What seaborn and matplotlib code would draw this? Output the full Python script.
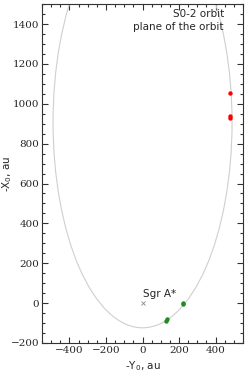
import matplotlib
matplotlib.use("Agg")
import matplotlib.pyplot as plt
from matplotlib.patches import Ellipse
from matplotlib.ticker import MultipleLocator
import pandas as pd
import seaborn as sns

# orbit of S0-2 (focus at Sgr A*)
orbit_center_y = 907
orbit_semi_major = 1031
orbit_semi_minor = 490

# observed positions (-Y0, -X0) in au
red_y = [478, 480, 481]
red_x = [1055, 941, 931]
green_y = [219, 224, 127, 134]
green_x = [-6, 1, -88, -82]

df_red = pd.DataFrame({"y": red_y, "x": red_x})
df_green = pd.DataFrame({"y": green_y, "x": green_x})

sns.set_style("ticks")
plt.rcParams["font.family"] = ["DejaVu Sans"]

fig = plt.figure(figsize=(2.49, 3.74), dpi=100)
ax = fig.add_axes([0.169, 0.083, 0.807, 0.906])

orbit = Ellipse((0, orbit_center_y), 2 * orbit_semi_minor, 2 * orbit_semi_major,
                fill=False, edgecolor="#cfcfcf", linewidth=0.8)
ax.add_patch(orbit)

sns.scatterplot(data=df_red, x="y", y="x", color="red", s=10, linewidth=0,
                ax=ax, zorder=3)
sns.scatterplot(data=df_green, x="y", y="x", color="#1e8c1e", s=10, linewidth=0,
                ax=ax, zorder=3)

ax.plot([0], [0], marker="x", color="#888888", markersize=3, markeredgewidth=0.6)
ax.text(0, 22, "Sgr A*", fontsize=7.5, ha="left", va="bottom")

ax.text(0.905, 0.985, "S0-2 orbit\nplane of the orbit", transform=ax.transAxes,
        fontsize=7.5, ha="right", va="top", linespacing=1.3)

ax.set_xlim(-550, 550)
ax.set_ylim(-200, 1500)
ax.xaxis.set_major_locator(MultipleLocator(200))
ax.xaxis.set_minor_locator(MultipleLocator(50))
ax.yaxis.set_major_locator(MultipleLocator(200))
ax.yaxis.set_minor_locator(MultipleLocator(50))
ax.tick_params(which="both", direction="in", top=True, right=True,
               color="#333333", width=0.8, labelsize=7.5, pad=2)
ax.tick_params(which="major", length=4)
ax.tick_params(which="minor", length=2)
for lab in ax.get_xticklabels() + ax.get_yticklabels():
    lab.set_family("DejaVu Serif")
for sp in ax.spines.values():
    sp.set_color("#333333")
    sp.set_linewidth(0.8)

ax.set_xlabel("-Y$_0$, au", fontsize=7.5, labelpad=3)
ax.set_ylabel("-X$_0$, au", fontsize=7.5)
ax.yaxis.set_label_coords(-0.14, 0.5)

fig.savefig("out.png", dpi=100)
